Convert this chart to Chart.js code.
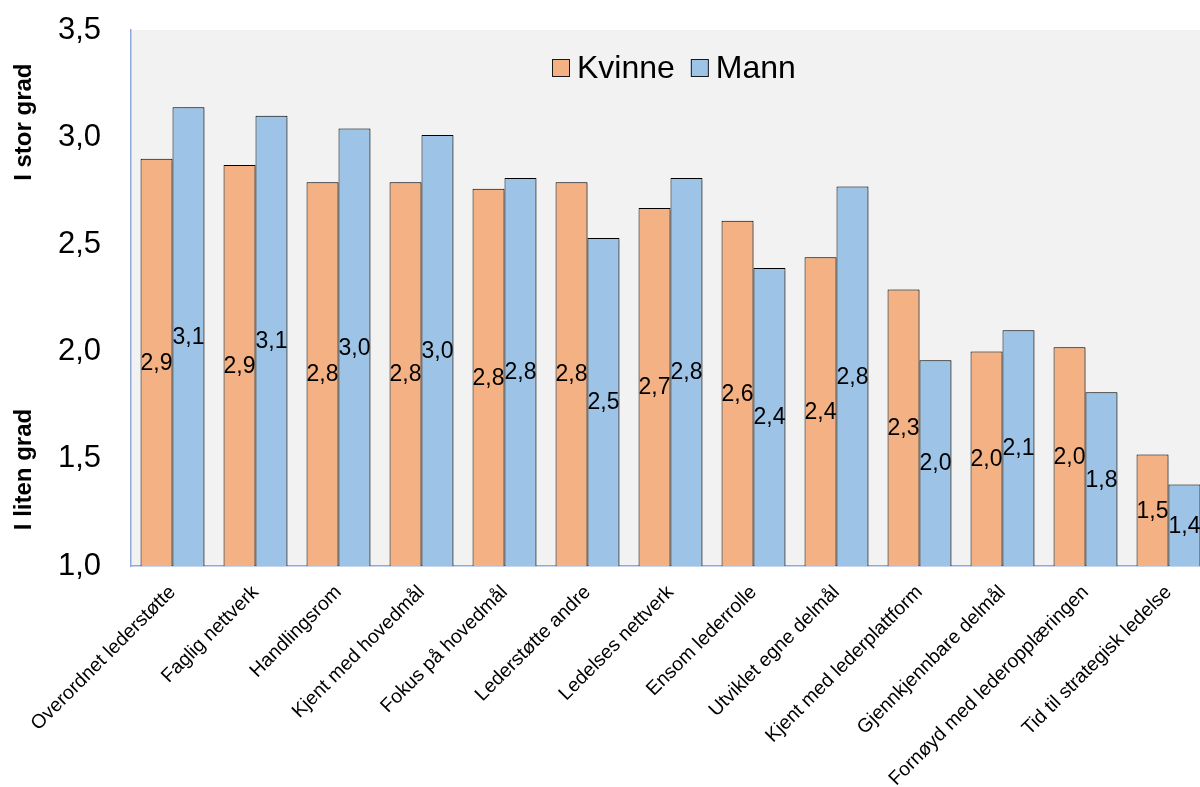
<!DOCTYPE html>
<html>
<head>
<meta charset="utf-8">
<script src="https://cdn.jsdelivr.net/npm/chart.js@4.4.1/dist/chart.umd.min.js"></script>
<style>
  html, body { margin: 0; padding: 0; background: #fff; overflow: hidden; }
  #wrap { position: absolute; left: 0; top: 0; width: 1200px; height: 787px; overflow: hidden; }
</style>
</head>
<body>
<div id="wrap"><canvas id="chart" width="1212" height="787"></canvas></div>
<script>
// data
const categories = [
  "Overordnet lederstøtte", "Faglig nettverk", "Handlingsrom", "Kjent med hovedmål",
  "Fokus på hovedmål", "Lederstøtte andre", "Ledelses nettverk", "Ensom lederrolle",
  "Utviklet egne delmål", "Kjent med lederplattform", "Gjennkjennbare delmål",
  "Fornøyd med lederopplæringen", "Tid til strategisk ledelse"
];
const kvinne = [2.90, 2.87, 2.79, 2.79, 2.76, 2.79, 2.67, 2.61, 2.44, 2.29, 2.00, 2.02, 1.52];
const mann   = [3.14, 3.10, 3.04, 3.01, 2.81, 2.53, 2.81, 2.39, 2.77, 1.96, 2.10, 1.81, 1.38];
const yTicks = [1.0, 1.5, 2.0, 2.5, 3.0, 3.5];
const axisTitles = ["I stor grad", "I liten grad"];

const FONT = "'Liberation Sans', Arial, sans-serif";
const fmt = v => v.toFixed(1).replace(".", ",");

// gray plot background
const plotBg = {
  id: "plotBg",
  beforeDraw(chart) {
    const { ctx, chartArea: a } = chart;
    ctx.save();
    ctx.fillStyle = "#f2f2f2";
    ctx.fillRect(a.left, a.top, a.right - a.left, a.bottom - a.top);
    ctx.restore();
  }
};

// soft shadow to the right of bars
const barShadow = {
  id: "barShadow",
  beforeDatasetDraw(chart) {
    const ctx = chart.ctx;
    ctx.save();
    ctx.shadowColor = "rgba(0,0,0,0.25)";
    ctx.shadowOffsetX = 3;
    ctx.shadowOffsetY = 1;
    ctx.shadowBlur = 3;
  },
  afterDatasetDraw(chart) { chart.ctx.restore(); }
};

// value labels centred in each bar
const barLabels = {
  id: "barLabels",
  afterDatasetsDraw(chart) {
    const ctx = chart.ctx;
    ctx.save();
    ctx.font = "23px " + FONT;
    ctx.fillStyle = "#000";
    ctx.textAlign = "center";
    ctx.textBaseline = "middle";
    chart.data.datasets.forEach((ds, i) => {
      chart.getDatasetMeta(i).data.forEach((bar, j) => {
        ctx.fillText(fmt(ds.data[j]), bar.x, (bar.y + bar.base) / 2 + 1);
      });
    });
    ctx.restore();
  }
};

// legend inside plot area + split y-axis titles
const extras = {
  id: "extras",
  afterDraw(chart) {
    const { ctx, scales } = chart;
    ctx.save();
    // legend
    ctx.font = "32px " + FONT;
    ctx.textBaseline = "middle";
    const box = 18, gap = 7, sep = 16;
    let x = 552;
    const y = 68;
    chart.data.datasets.forEach(ds => {
      ctx.fillStyle = ds.backgroundColor;
      ctx.fillRect(x, y - box / 2, box, box);
      ctx.strokeStyle = "#1a1a1a";
      ctx.lineWidth = 1;
      ctx.strokeRect(x + 0.5, y - box / 2 + 0.5, box - 1, box - 1);
      ctx.fillStyle = "#000";
      ctx.textAlign = "left";
      ctx.fillText(ds.label, x + box + gap, y + 1);
      x += box + gap + ctx.measureText(ds.label).width + sep;
    });
    // y titles
    ctx.font = "bold 24px " + FONT;
    ctx.fillStyle = "#000";
    ctx.textAlign = "center";
    ctx.textBaseline = "middle";
    const ys = [scales.y.getPixelForValue(3.07), scales.y.getPixelForValue(1.45)];
    axisTitles.forEach((t, i) => {
      ctx.save();
      ctx.translate(24, ys[i]);
      ctx.rotate(-Math.PI / 2);
      ctx.fillText(t, 0, 0);
      ctx.restore();
    });
    ctx.restore();
  }
};

new Chart(document.getElementById("chart"), {
  type: "bar",
  data: {
    labels: categories,
    datasets: [
      { label: "Kvinne", data: kvinne, base: 1, backgroundColor: "#f4b183", borderColor: "#000", borderWidth: 1 },
      { label: "Mann", data: mann, base: 1, backgroundColor: "#9dc3e6", borderColor: "#000", borderWidth: 1 }
    ]
  },
  options: {
    responsive: false,
    animation: false,
    categoryPercentage: 0.77,
    barPercentage: 1.0,
    layout: { padding: { top: 30, right: 2, left: 0, bottom: 0 } },
    plugins: { legend: { display: false }, tooltip: { enabled: false } },
    scales: {
      x: {
        grid: { display: false, drawTicks: false },
        border: { display: true, color: "#8eaadb", width: 1.5 },
        ticks: {
          color: "#000",
          font: { family: FONT, size: 19.5 },
          minRotation: 45, maxRotation: 45,
          padding: 15,
          autoSkip: false
        },
        afterFit(axis) { axis.height = 221; }
      },
      y: {
        min: 1, max: 3.5,
        afterBuildTicks(axis) { axis.ticks = yTicks.map(v => ({ value: v })); },
        // invisible tick marks give the gap between labels and axis
        grid: { display: false, drawTicks: true, tickLength: 28 },
        border: { display: true, color: "#8eaadb", width: 1.5 },
        ticks: {
          color: "#000",
          font: { family: FONT, size: 31 },
          padding: 2,
          callback: v => fmt(v)
        },
        afterFit(axis) { axis.width = 131; }
      }
    }
  },
  plugins: [plotBg, barShadow, barLabels, extras]
});
</script>
</body>
</html>
